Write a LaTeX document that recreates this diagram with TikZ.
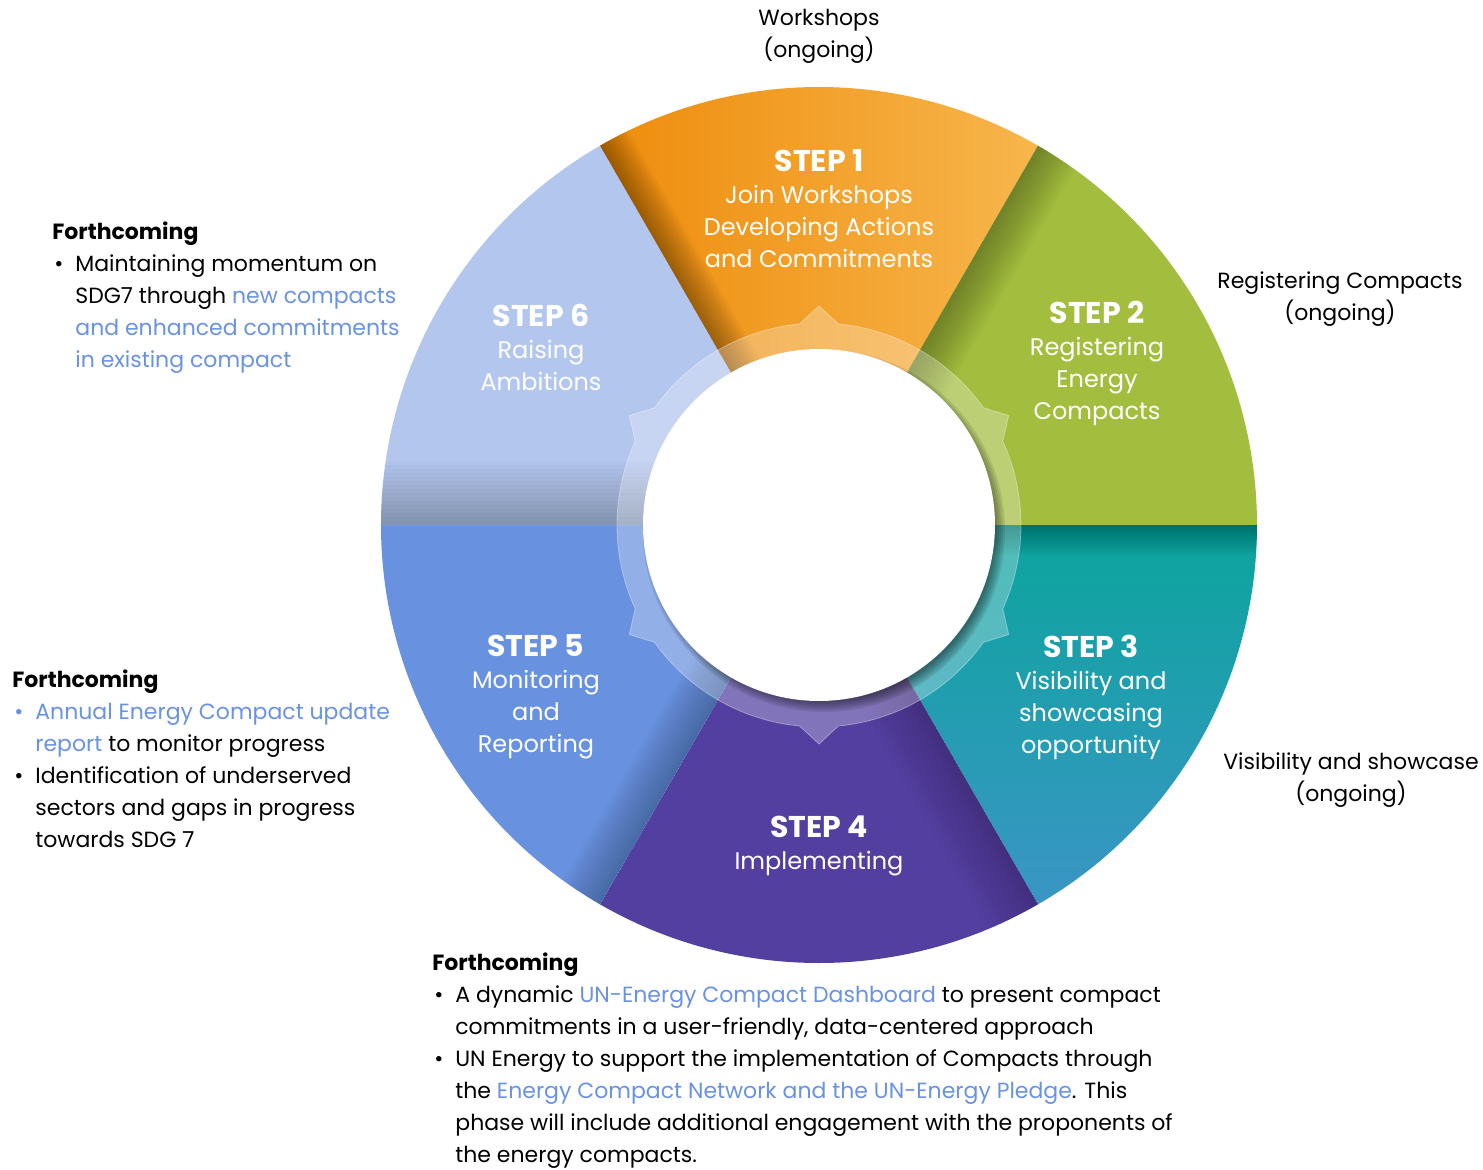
\documentclass[tikz,border=0pt]{standalone}
\usepackage{fontspec}
\setmainfont{Poppins}
\usetikzlibrary{calc}

\definecolor{oneL}{HTML}{EE8C0C}
\definecolor{oneR}{HTML}{F7B64C}
\definecolor{two}{HTML}{A3BD3F}
\definecolor{threeT}{HTML}{0BA59D}
\definecolor{threeB}{HTML}{3B95C5}
\definecolor{four}{HTML}{533FA0}
\definecolor{five}{HTML}{6891DF}
\definecolor{six}{HTML}{B3C6EE}
\definecolor{linkblue}{HTML}{6A92E2}

\newcommand{\stephead}[1]{{\fontsize{15}{16}\selectfont\bfseries STEP #1}}
\newcommand{\lnk}[1]{{\color{linkblue}#1}}
\newcommand{\bul}{\makebox[11.5pt][l]{\hspace{1pt}\textbullet}}
\newcommand{\ind}{\hspace*{11.5pt}}

\begin{document}
\begin{tikzpicture}
      [x = 0.5pt, y = 0.5pt,
      steptext/.style= {
         text = white,
         align = center,
         inner sep = 0pt,
         font = \fontsize{12}{16}\selectfont
      },
      sidetext/.style= {
         align = center,
         inner sep = 0pt,
         font = \fontsize{11}{16}\selectfont
      },
      notebox/.style= {
         align = left,
         anchor = north west,
         inner sep = 0pt,
         font = \fontsize{11}{16}\selectfont
      }]

      \useasboundingbox (-819, -644) rectangle (664, 525);

      % the six steps
      \shade[left color = oneL, right color = oneR]
         (0, 0) -- (60:438) arc[start angle = 60, end angle = 120, radius = 438] -- cycle;
      \fill[two]
         (0, 0) -- (0:438) arc[start angle = 0, end angle = 60, radius = 438] -- cycle;
      \shade[top color = threeT, bottom color = threeB]
         (0, 0) -- (-60:438) arc[start angle = -60, end angle = 0, radius = 438] -- cycle;
      \fill[four]
         (0, 0) -- (-120:438) arc[start angle = -120, end angle = -60, radius = 438] -- cycle;
      \fill[five]
         (0, 0) -- (180:438) arc[start angle = 180, end angle = 240, radius = 438] -- cycle;
      \fill[six]
         (0, 0) -- (120:438) arc[start angle = 120, end angle = 180, radius = 438] -- cycle;

      % shade along the edge where the next step overlaps
      \foreach \a/\w/\o in {120/32/0.024, 60/44/0.018, 0/30/0.02,
                            300/56/0.012, 240/44/0.016, 180/64/0.014} {
         \begin{scope}
            \clip (0, 0) -- (\a-60:438) arc[start angle = \a-60, end angle = \a, radius = 438] -- cycle;
            \foreach \k in {1,...,16}
               \fill[black, opacity = \o, rotate = \a] (0, 0) rectangle (440, -\k*\w/16);
         \end{scope}
      }

      % ring with notches
      \fill[white, opacity = 0.28, even odd rule]
         (24.5:202) \foreach \a in {30,90,...,330} {
            -- (\a-5.5:202) -- (\a:219) -- (\a+5.5:202)
            arc[start angle = \a+5.5, end angle = \a+54.5, radius = 202] }
         -- cycle
         (0, 0) circle (176);
      \draw[white, opacity = 0.35, line width = 0.4pt]
         (24.5:202) \foreach \a in {30,90,...,330} {
            -- (\a-5.5:202) -- (\a:219) -- (\a+5.5:202)
            arc[start angle = \a+5.5, end angle = \a+54.5, radius = 202] }
         -- cycle;

      % shadow and hole
      \foreach \r in {171,173,175,177,179,181}
         \fill[black, opacity = 0.09] (5, -6) circle (\r);
      \fill[white] (0, 0) circle (176);

      % step labels
      \node[steptext] (s1) at (0, 316) {\stephead{1}\\Join Workshops\\Developing Actions\\and Commitments};
      \node[steptext] (s2) at (278, 162) {\stephead{2}\\Registering\\Energy\\Compacts};
      \node[steptext] (s3) at (272, -172) {\stephead{3}\\Visibility and\\showcasing\\opportunity};
      \node[steptext] (s4) at (0, -321) {\stephead{4}\\Implementing};
      \node[steptext] (s5) at (-283, -172) {\stephead{5}\\Monitoring\\and\\Reporting};
      \node[steptext] (s6) at (-278, 178) {\stephead{6}\\Raising\\Ambitions};

      % ongoing activities
      \node[sidetext] (workshops) at (0, 489) {Workshops\\(ongoing)};
      \node[sidetext] (registering) at (521, 226) {Registering Compacts\\(ongoing)};
      \node[sidetext] (visibility) at (532, -255) {Visibility and showcase\\(ongoing)};

      % forthcoming notes
      \node[notebox] (ambition) at (-767, 304)
         {\textbf{Forthcoming}\\
          \bul Maintaining momentum on\\
          \ind SDG7 through \lnk{new compacts}\\
          \ind \lnk{and enhanced commitments}\\
          \ind \lnk{in existing compact}};

      \node[notebox] (monitor) at (-807, -144)
         {\textbf{Forthcoming}\\
          \lnk{\bul Annual Energy Compact update}\\
          \ind \lnk{report} to monitor progress\\
          \bul Identification of underserved\\
          \ind sectors and gaps in progress\\
          \ind towards SDG 7};

      \node[notebox] (implement) at (-387, -427)
         {\textbf{Forthcoming}\\
          \bul A dynamic \lnk{UN-Energy Compact Dashboard} to present compact\\
          \ind commitments in a user-friendly, data-centered approach\\
          \bul UN Energy to support the implementation of Compacts through\\
          \ind the \lnk{Energy Compact Network and the UN-Energy Pledge}. This\\
          \ind phase will include additional engagement with the proponents of\\
          \ind the energy compacts.};

   \end{tikzpicture}
\end{document}
